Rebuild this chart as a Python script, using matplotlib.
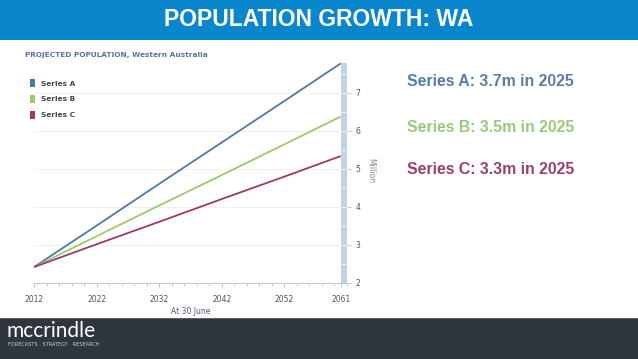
import matplotlib
matplotlib.use("Agg")
import matplotlib.pyplot as plt
from matplotlib.patches import Patch, Rectangle
from matplotlib.ticker import MultipleLocator

years = [2012, 2022, 2032, 2042, 2052, 2061]
series_a = [2.42, 3.51, 4.61, 5.70, 6.79, 7.78]
series_b = [2.42, 3.23, 4.04, 4.84, 5.65, 6.38]
series_c = [2.42, 3.02, 3.61, 4.21, 4.80, 5.34]
series_names = ["Series A", "Series B", "Series C"]
series_colors = ["#4E79A7", "#9BCB6B", "#9B3A6A"]
text_colors = ["#5A7DA8", "#9BC97B", "#9A3E6D"]
callouts = ["Series A: 3.7m in 2025", "Series B: 3.5m in 2025", "Series C: 3.3m in 2025"]
x_ticks = [2012, 2022, 2032, 2042, 2052, 2061]
y_ticks = [2, 3, 4, 5, 6, 7]

W, H = 638, 359
fig = plt.figure(figsize=(W / 100, H / 100), dpi=100)
fig.patch.set_facecolor("white")

def fx(px):
    return px / W

def fy(py):
    return 1 - py / H

# header band
fig.patches.append(Rectangle((0, fy(40)), 1, 40 / H, transform=fig.transFigure,
                             facecolor="#0A87CC", edgecolor="none", zorder=0))
fig.text(0.5, fy(20), "POPULATION GROWTH: WA", ha="center", va="center",
         color="white", fontsize=16.5, fontweight="bold", family="Liberation Sans")

# footer band
fig.patches.append(Rectangle((0, 0), 1, (H - 318) / H, transform=fig.transFigure,
                             facecolor="#30363F", edgecolor="none", zorder=0))
fig.patches.append(Rectangle((0, fy(319)), 1, 1 / H, transform=fig.transFigure,
                             facecolor="#5A6069", edgecolor="none", zorder=0))
fig.text(fx(7), fy(331), "mccrindle", ha="left", va="center", color="white",
         fontsize=15, family="Lato")
fig.text(fx(8), fy(345), "FORECASTS \u00b7 STRATEGY \u00b7 RESEARCH", ha="left", va="center",
         color="#C8CCD2", fontsize=3.6, family="DejaVu Sans")

# chart axes
ymin, ymax = 2, 7.9
ax_left, ax_right = 34, 347
ax_bottom = 283
ax_top = ax_bottom - (ymax - ymin) * 38
ax = fig.add_axes([fx(ax_left), fy(ax_bottom), (ax_right - ax_left) / W, (ax_bottom - ax_top) / H])
ax.set_xlim(2012, 2062)
ax.set_ylim(ymin, ymax)

for vals, col in zip([series_a, series_b, series_c], series_colors):
    ax.plot(years, vals, color=col, lw=1.3, zorder=3, solid_capstyle="butt")

# navigator-like bar on the right
ax.add_patch(Rectangle((2061, ymin), 1, series_a[-1] - ymin, facecolor="#C3D1E2",
                       edgecolor="none", zorder=2))
for k in range(1, 20):
    yv = ymin + k * 0.5
    if yv < series_a[-1]:
        ax.plot([2061, 2062], [yv, yv], color="white", lw=0.5, zorder=2.5)

ax.yaxis.tick_right()
ax.yaxis.set_label_position("right")
ax.set_yticks(y_ticks)
ax.set_yticklabels([str(v) for v in y_ticks])
ax.tick_params(axis="y", length=3, width=0.6, color="#BBBBBB", labelsize=5.5,
               labelcolor="#555555", pad=3)
ax.grid(axis="y", color="#EEEEEE", lw=0.6, zorder=0)
ax.set_ylabel("Million", rotation=270, fontsize=5.5, color="#888888", labelpad=11)

ax.set_xticks(x_ticks)
ax.set_xticklabels([str(v) for v in x_ticks])
ax.xaxis.set_minor_locator(MultipleLocator(2))
ax.tick_params(axis="x", which="major", length=3, width=0.6, color="#BBBBBB",
               labelsize=5.5, labelcolor="#555555", pad=6)
ax.tick_params(axis="x", which="minor", length=2, width=0.5, color="#BBBBBB")
ax.set_xlabel("At 30 June", fontsize=5.5, color="#555577", labelpad=2)

for s in ["top", "right", "left"]:
    ax.spines[s].set_visible(False)
ax.spines["bottom"].set_color("#BBBBBB")
ax.spines["bottom"].set_linewidth(0.6)

# chart title
fig.text(fx(25), fy(55), "PROJECTED POPULATION, Western Australia", ha="left", va="center",
         fontsize=5.3, fontweight="bold", color="#5573A8")

# legend
handles = [Patch(facecolor=c, edgecolor="none") for c in series_colors]
leg = fig.legend(handles, series_names, loc="upper left",
                 bbox_to_anchor=(fx(25), fy(74)), frameon=False,
                 prop={"size": 5.3, "weight": "bold"}, handlelength=0.7,
                 handleheight=1.3, labelspacing=1.05, handletextpad=0.8,
                 borderpad=0.2)
for t in leg.get_texts():
    t.set_color("#444444")

# callouts
for txt, col, py in zip(callouts, text_colors, [81, 127, 170]):
    fig.text(fx(407), fy(py), txt, ha="left", va="center", color=col,
             fontsize=11.4, fontweight="bold", family="Liberation Sans")

fig.savefig("out.png", dpi=100)
